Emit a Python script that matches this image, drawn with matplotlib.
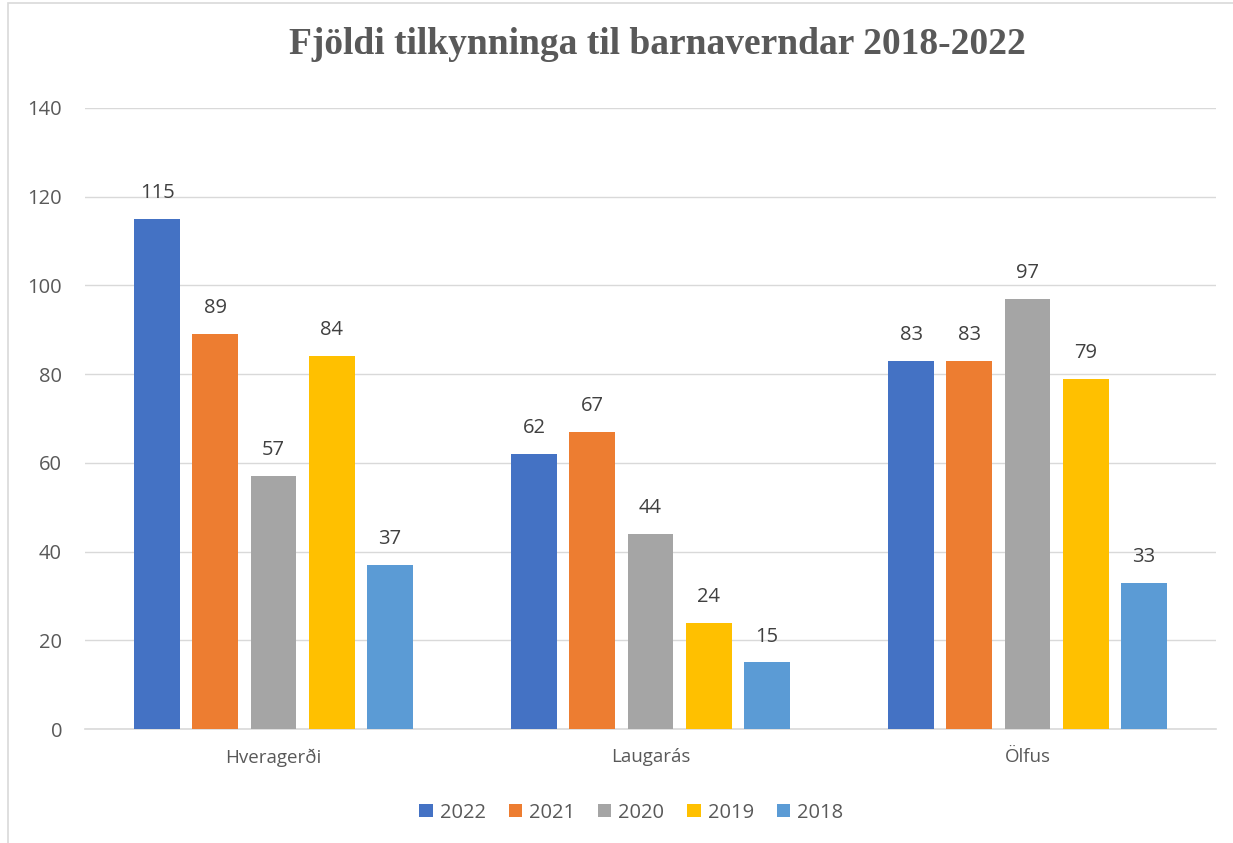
import numpy as np
import matplotlib
matplotlib.use("Agg")
import matplotlib.pyplot as plt
from matplotlib.patches import Rectangle

# ---- Data ----
places = ["Hveragerði", "Laugarás", "Ölfus"]
years = ["2022", "2021", "2020", "2019", "2018"]
v2022 = [115, 62, 83]
v2021 = [89, 67, 83]
v2020 = [57, 44, 97]
v2019 = [84, 24, 79]
v2018 = [37, 15, 33]
series = [v2022, v2021, v2020, v2019, v2018]
colors = ["#4472C4", "#ED7D31", "#A5A5A5", "#FFC000", "#5B9BD5"]

TXT = "#595959"
FONT = "Open Sans"

fig = plt.figure(figsize=(12.33, 8.43), dpi=100)
ax = fig.add_axes([85 / 1233, 0.1352, (1216 - 85) / 1233, 0.8719 - 0.1352])

# outer chart border (only partly visible in the reference)
fig.patches.append(Rectangle((8 / 1233, -0.01), 1.1, (843 - 3) / 843 + 0.01,
                             transform=fig.transFigure, fill=False,
                             edgecolor="#d9d9d9", linewidth=1.2))

x = np.arange(len(places))
w = 0.122
pitch = 0.154
for i, (vals, yr, c) in enumerate(zip(series, years, colors)):
    pos = x + (i - 2) * pitch
    bars = ax.bar(pos, vals, width=w, color=c, label=yr, zorder=3)
    for b, v in zip(bars, vals):
        ax.text(b.get_x() + b.get_width() / 2, v + 3.6, str(v), ha="center",
                va="bottom", fontsize=14.5, color="#404040", family=FONT)

ax.set_xlim(-0.5, 2.5)
ax.set_ylim(0, 140)
ax.set_yticks(range(0, 141, 20))
ax.yaxis.grid(True, color="#d9d9d9", linewidth=1, zorder=0)
for s in ["top", "right", "left"]:
    ax.spines[s].set_visible(False)
ax.spines["bottom"].set_color("#d9d9d9")
ax.spines["bottom"].set_linewidth(1.2)
ax.tick_params(axis="both", length=0, labelcolor=TXT)
ax.tick_params(axis="y", pad=16.5, labelsize=14.5)
ax.tick_params(axis="x", pad=14, labelsize=13.5)
ax.set_xticks(x)
ax.set_xticklabels(places)
for lab in ax.get_xticklabels() + ax.get_yticklabels():
    lab.set_family(FONT)

fig.text(0.533, 0.947, "Fjöldi tilkynninga til barnaverndar 2018-2022",
         ha="center", va="center", fontsize=27, fontweight="bold",
         color=TXT, family="Liberation Serif")

leg = fig.legend(loc="center", bbox_to_anchor=(0.512, 0.036), ncol=5, frameon=False,
                 handlelength=0.65, handleheight=0.65, handletextpad=0.35,
                 columnspacing=1.15, prop={"family": FONT, "size": 14.5})
for t in leg.get_texts():
    t.set_color(TXT)

fig.savefig("out.png", dpi=100)
